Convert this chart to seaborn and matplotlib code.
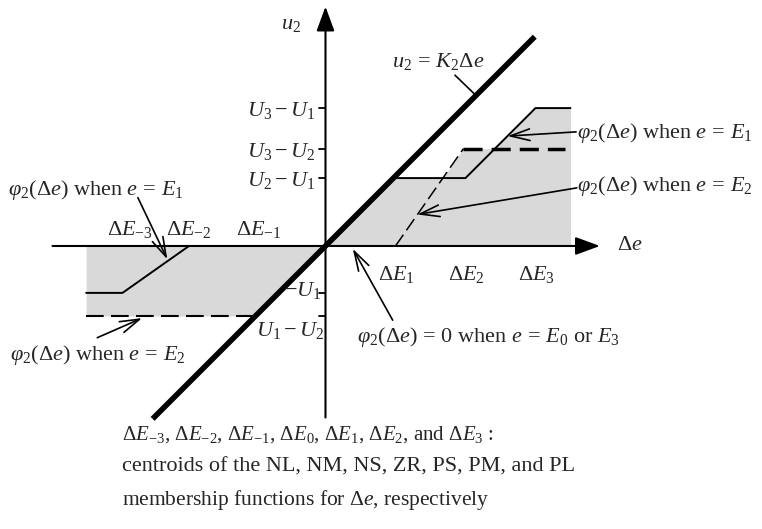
import numpy as np
import pandas as pd
import matplotlib
matplotlib.use("Agg")
import matplotlib.pyplot as plt
import seaborn as sns

# ---- data -------------------------------------------------------------
# centroids of the membership functions for delta-e
centroids = [-3, -2, -1, 1, 2, 3]
centroid_labels = [r"$\Delta E_{-3}$", r"$\Delta E_{-2}$", r"$\Delta E_{-1}$",
                   r"$\Delta E_1$", r"$\Delta E_2$", r"$\Delta E_3$"]

# output levels marked on the u2 axis
u_levels = [1.97, 1.39, 0.97, -0.67, -1.0]
u_labels = [r"$U_3 - U_1$", r"$U_3 - U_2$", r"$U_2 - U_1$", r"$-U_1$", r"$U_1 - U_2$"]

# linear controller u2 = K2 * delta-e
K2 = 1.0
k2_x = [-2.47, 2.99]

# phi2(delta-e) when e = E1 (solid)
phi_e1_x = [-3.42, -2.90, -1.95, 0.0, 0.97, 2.00, 3.00, 3.50]
phi_e1_y = [-0.67, -0.67, 0.00, 0.0, 0.97, 0.97, 1.97, 1.97]

# phi2(delta-e) when e = E2 (dashed)
phi_e2_x = [-3.42, -1.00, 0.0, 1.00, 1.97, 3.42]
phi_e2_y = [-1.00, -1.00, 0.0, 0.00, 1.39, 1.39]

# ---- style ------------------------------------------------------------
sns.set_theme(style="white")
plt.rcParams["font.family"] = ["Liberation Serif", "DejaVu Serif"]
plt.rcParams["mathtext.fontset"] = "custom"
plt.rcParams["mathtext.rm"] = "Liberation Serif"
plt.rcParams["mathtext.it"] = "Liberation Serif:italic"
plt.rcParams["mathtext.bf"] = "Liberation Serif:bold"
FS = 16

fig = plt.figure(figsize=(7.62, 5.29), dpi=100)
ax = fig.add_axes([0, 0, 1, 1])
ax.set_xlim(-4.65, 6.236)
ax.set_ylim(-4.043, 3.514)
ax.set_axis_off()

# ---- shaded region between zero and the outermost phi2 curves ----------
grid = np.union1d(np.linspace(min(phi_e1_x + phi_e2_x), max(phi_e1_x + phi_e2_x), 4000),
                  np.array(phi_e1_x + phi_e2_x))
e1 = np.interp(grid, phi_e1_x, phi_e1_y)
e2 = np.interp(grid, phi_e2_x, phi_e2_y)
lin = K2 * grid
upper = np.where(grid >= 0, np.minimum(np.maximum(e1, e2), lin), 0.0)
lower = np.where(grid < 0, np.maximum(np.minimum(e1, e2), lin), 0.0)
right_edge = max(phi_e1_x)
mask = grid <= right_edge
ax.fill_between(grid[mask], lower[mask], upper[mask], color="#d9d9d9", lw=0, zorder=1)

# ---- curves --------------------------------------------------------------
e1_df = pd.DataFrame({"de": phi_e1_x, "u": phi_e1_y})
sns.lineplot(data=e1_df, x="de", y="u", sort=False, estimator=None,
             color="black", lw=1.4, ax=ax, zorder=3)

e2_df = pd.DataFrame({"de": phi_e2_x, "u": phi_e2_y})
# left saturation, rising part and right saturation of the E2 curve
sns.lineplot(data=e2_df.iloc[0:2], x="de", y="u", sort=False, estimator=None,
             color="black", lw=1.5, ax=ax, zorder=3).lines[-1].set_dashes([8.5, 3.5])
sns.lineplot(data=e2_df.iloc[3:5], x="de", y="u", sort=False, estimator=None,
             color="black", lw=1.1, ax=ax, zorder=3).lines[-1].set_dashes([9, 3.5])
sns.lineplot(data=e2_df.iloc[4:6], x="de", y="u", sort=False, estimator=None,
             color="black", lw=2.5, ax=ax, zorder=3).lines[-1].set_dashes([5.5, 2.6])

k2_df = pd.DataFrame({"de": k2_x, "u": [K2 * v for v in k2_x]})
sns.lineplot(data=k2_df, x="de", y="u", sort=False, estimator=None,
             color="black", lw=4.0, ax=ax, zorder=5, solid_capstyle="butt")

# ---- coordinate axes -----------------------------------------------------
axis_arrow = dict(arrowstyle="-|>,head_length=1.5,head_width=0.55",
                  mutation_scale=10, lw=1.5, color="black",
                  shrinkA=0, shrinkB=0)
ax.annotate("", xy=(3.92, 0), xytext=(-3.9, 0), arrowprops=axis_arrow, zorder=4)
ax.annotate("", xy=(0, 3.42), xytext=(0, -2.45), arrowprops=axis_arrow, zorder=4)
ax.text(4.35, 0.0, r"$\Delta e$", fontsize=FS, ha="center", va="center")
ax.text(-0.49, 3.17, r"$u_2$", fontsize=FS, ha="center", va="center")

# ticks and labels on the u2 axis
for lvl in u_levels:
    ax.plot([-0.09, 0], [lvl, lvl], color="black", lw=1.3, zorder=4)
label_offsets = [(-0.14, -0.03), (-0.14, -0.04), (-0.14, -0.04), (-0.05, 0.03), (-0.02, -0.21)]
for lvl, lab, (dx, dy) in zip(u_levels, u_labels, label_offsets):
    ax.text(dx, lvl + dy, lab, fontsize=FS, ha="right", va="center", zorder=6)

# centroid labels along the delta-e axis
for c, lab in zip(centroids, centroid_labels):
    if c < 0:
        shift = 0.2 if c == -3 else 0.05
        ax.text(c + shift, 0.23, lab, fontsize=FS, ha="center", va="center")
    else:
        ax.text(c + 0.01, -0.41, lab, fontsize=FS, ha="center", va="center")

# ---- annotations -----------------------------------------------------------
note_arrow = dict(arrowstyle="->,head_length=1.4,head_width=0.42",
                  mutation_scale=10, lw=1.2, color="black",
                  shrinkA=0, shrinkB=0)
phi = r"$\varphi_2(\Delta e)$"

ax.text(0.95, 2.63, r"$u_2\, =\, K_2\Delta e$", fontsize=FS, ha="left", va="center")
ax.plot([1.85, 2.15], [2.44, 2.15], color="black", lw=1.2, zorder=4)

ax.text(3.6, 1.62, phi + r" when $e\, =\, E_1$", fontsize=FS, ha="left", va="center")
ax.annotate("", xy=(2.6, 1.57), xytext=(3.58, 1.63), arrowprops=note_arrow, zorder=6)

ax.text(3.6, 0.85, phi + r" when $e\, =\, E_2$", fontsize=FS, ha="left", va="center")
ax.annotate("", xy=(1.31, 0.45), xytext=(3.59, 0.83), arrowprops=note_arrow, zorder=6)

ax.text(-4.54, 0.8, phi + r" when $e\, =\, E_1$", fontsize=FS, ha="left", va="center")
ax.annotate("", xy=(-2.26, -0.19), xytext=(-2.68, 0.69), arrowprops=note_arrow, zorder=6)

ax.text(-4.51, -1.56, phi + r" when $e\, =\, E_2$", fontsize=FS, ha="left", va="center")
ax.annotate("", xy=(-2.62, -1.03), xytext=(-3.26, -1.31), arrowprops=note_arrow, zorder=6)

ax.text(0.45, -1.3, phi + r"$\, =\, 0$ when $e\, =\, E_0$ or $E_3$",
        fontsize=FS, ha="left", va="center")
ax.annotate("", xy=(0.39, -0.04), xytext=(0.96, -1.06), arrowprops=note_arrow, zorder=6)

# ---- caption -----------------------------------------------------------------
caption = [
    r"$\Delta E_{-3}$, $\Delta E_{-2}$, $\Delta E_{-1}$, $\Delta E_0$, "
    r"$\Delta E_1$, $\Delta E_2$, and $\Delta E_3$ :",
    "centroids of the NL, NM, NS, ZR, PS, PM, and PL",
    r"membership functions for $\Delta e$, respectively",
]
caption_sizes = [FS - 1, FS, FS - 0.5]
for i, (line, size) in enumerate(zip(caption, caption_sizes)):
    ax.text(-2.91, -2.7 - 0.465 * i, line, fontsize=size, ha="left", va="center")

fig.savefig("out.png", dpi=100)
